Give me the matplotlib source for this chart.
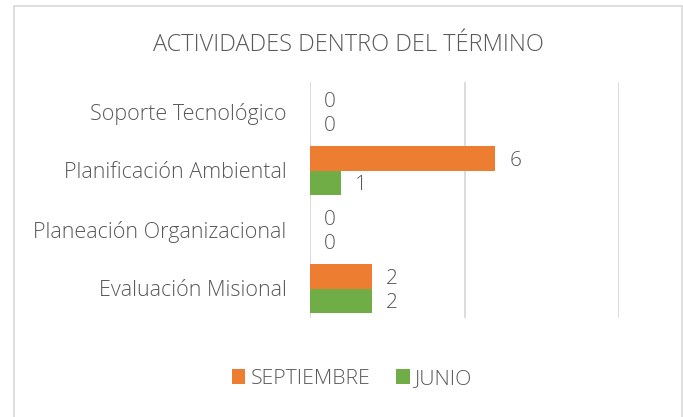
import numpy as np
import matplotlib.pyplot as plt
from matplotlib.patches import Rectangle

plt.rcParams['font.family'] = ['Open Sans', 'DejaVu Sans']

categorias = ['Evaluación Misional', 'Planeación Organizacional',
              'Planificación Ambiental', 'Soporte Tecnológico']
septiembre = [2, 0, 6, 0]
junio = [2, 0, 1, 0]
series = ['SEPTIEMBRE', 'JUNIO']
colores = ['#ED7D31', '#70AD47']

TXT = '#595959'

fig = plt.figure(figsize=(6.83, 4.17), dpi=100)
ax = fig.add_axes([310 / 683, 1 - 318 / 417, 309 / 683, 236 / 417])

y = np.arange(len(categorias))
h = 0.41
b1 = ax.barh(y + h / 2, septiembre, height=h, color=colores[0], label=series[0])
b2 = ax.barh(y - h / 2, junio, height=h, color=colores[1], label=series[1])

for bars, vals in [(b1, septiembre), (b2, junio)]:
    for bar, v in zip(bars, vals):
        ax.annotate(str(v), (v, bar.get_y() + bar.get_height() / 2),
                    xytext=(10, 0), textcoords='offset points',
                    va='center_baseline', ha='left', fontsize=15, color=TXT,
                    fontweight='light')

ax.set_xlim(0, 10)
ax.set_ylim(-0.5, len(categorias) - 0.5)
ax.set_xticks([0, 5, 10])
ax.set_xticklabels([])
ax.tick_params(axis='x', length=0)
ax.grid(axis='x', color='#D9D9D9', linewidth=1.3)
ax.set_axisbelow(True)
ax.set_yticks(y)
ax.set_yticklabels(categorias, fontsize=15.5, color=TXT, fontweight='light')
ax.tick_params(axis='y', length=0, pad=17)
for s in ax.spines.values():
    s.set_visible(False)

fig.text(348 / 683, 1 - 45 / 417, 'ACTIVIDADES DENTRO DEL TÉRMINO',
         ha='center', va='center', fontsize=17, color=TXT, fontweight='light')

leg = fig.legend(handles=[b1, b2], loc='center', ncol=2,
                 bbox_to_anchor=(352 / 683, 1 - 379 / 417), frameon=False,
                 fontsize=15.3, handlelength=0.65, handleheight=0.65,
                 handletextpad=0.25, columnspacing=1.2)
for t in leg.get_texts():
    t.set_color(TXT)
    t.set_fontweight('light')

fig.patches.append(Rectangle((13.5 / 683, -0.02), 668 / 683, 1 - 5.5 / 417 + 0.02,
                             transform=fig.transFigure, fill=False,
                             edgecolor='#D9D9D9', linewidth=1.2))

fig.savefig('out.png', dpi=100)
